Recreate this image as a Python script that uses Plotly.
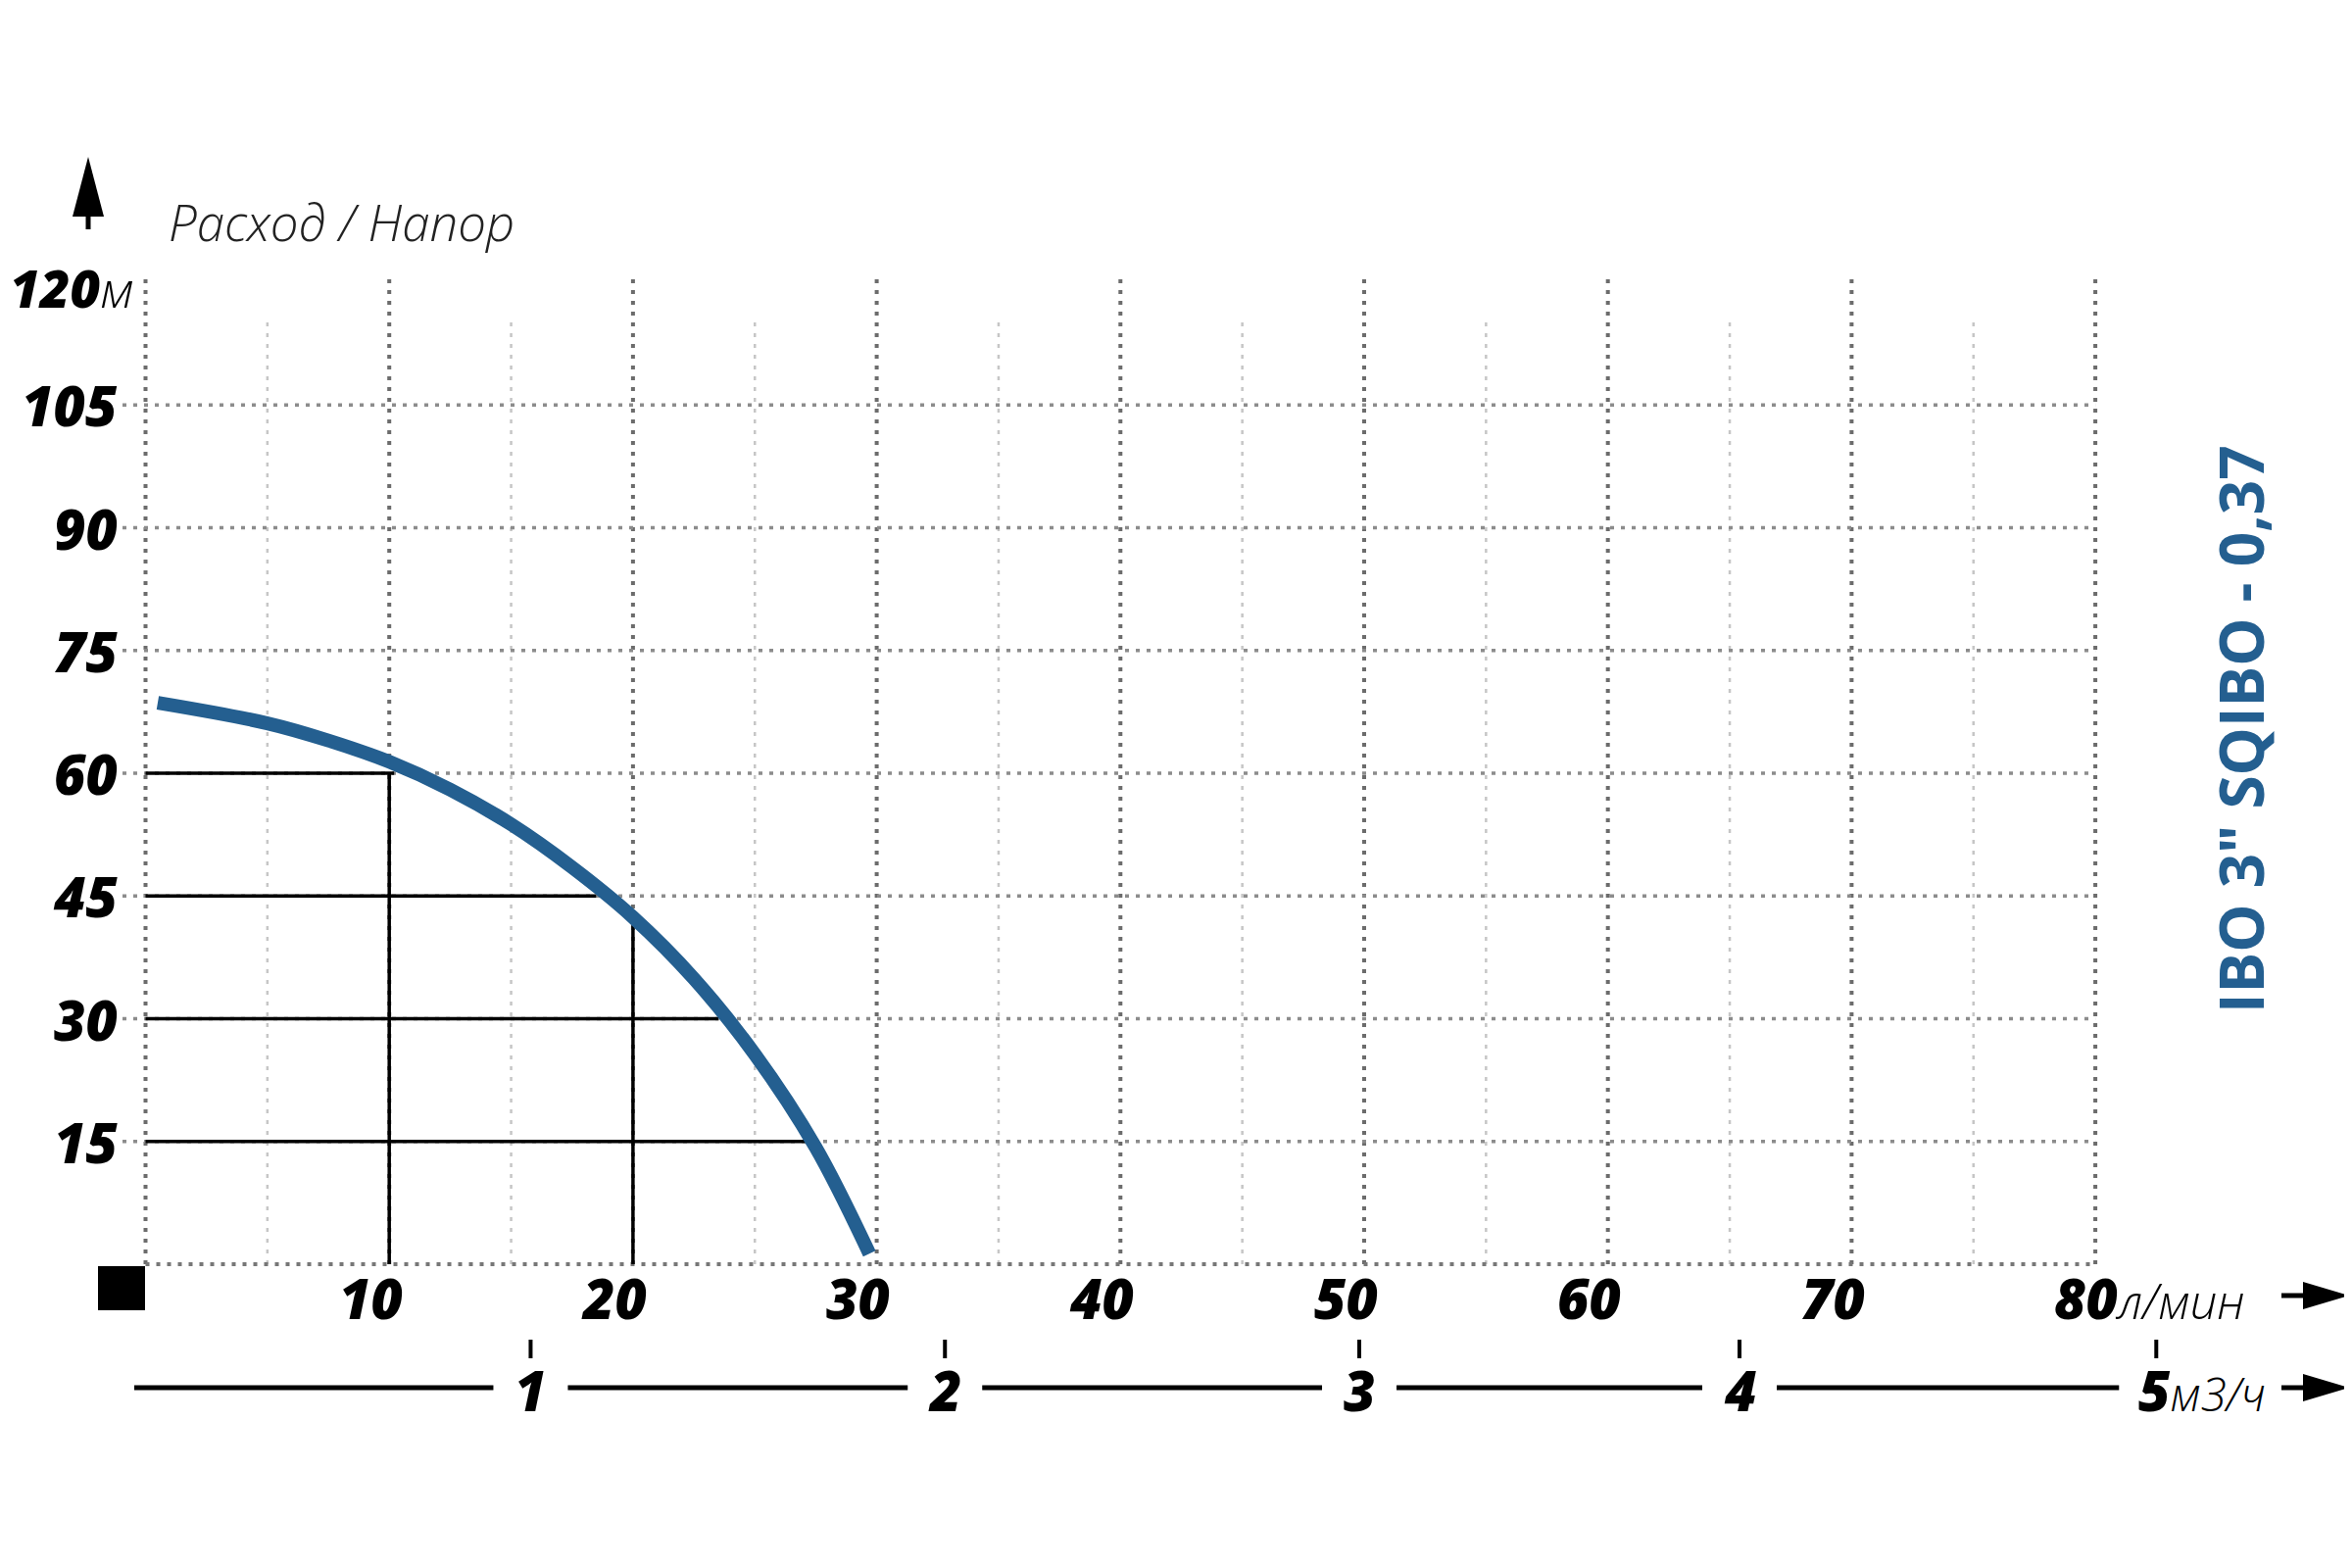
import plotly.graph_objects as go

# ---------------- data ----------------
flow_lpm = [0.5, 5, 7.5, 10, 12.5, 15, 17.5, 20, 22.5, 25, 27.5, 29.7]
head_m = [68.6, 66.1, 64.0, 61.4, 58.0, 53.75, 48.5, 42.4, 34.9, 25.65, 14.25, 1.3]

x_ticks = [10, 20, 30, 40, 50, 60, 70, 80]
x_minor = [5, 15, 25, 35, 45, 55, 65, 75]
y_ticks = [15, 30, 45, 60, 75, 90, 105, 120]
m3h_ticks = [1, 2, 3, 4, 5]
m3h_pos_lpm = [15.8, 32.8, 49.8, 65.4, 82.5]

ref_h_y = [60, 45, 30, 15]
ref_h_xend = [10.2, 18.5, 23.5, 27.1]
ref_v_x = [10, 20]
ref_v_yend = [60, 41.5]

model_name = 'IBO 3" SQIBO - 0,37'
title_text = "Расход / Напор"
unit_head = "м"
unit_flow = "л/мин"
unit_flow2 = "м3/ч"

# ---------------- layout geometry ----------------
W, H = 2400, 1600
PAGE_OFF = 8            # default body margin of the html page
X0, XS = 148.5, 24.87   # page px of flow=0, px per l/min
Y0, YS = 1290.0, 8.35   # page px of head=0, px per m


def px_x(p):
    return (p - X0) / XS


def px_y(p):
    return (Y0 - p) / YS


BLUE = "#245f90"
FONT = "Open Sans"

fig = go.Figure()

shapes = []
# major vertical grid
for xv in [0] + x_ticks:
    shapes.append(dict(type="line", xref="x", yref="y", x0=xv, x1=xv, y0=0, y1=px_y(284),
                       line=dict(color="#6c6c6c", width=4, dash="4px,7px"), layer="below"))
# minor vertical grid
for xv in x_minor:
    shapes.append(dict(type="line", xref="x", yref="y", x0=xv, x1=xv, y0=0, y1=px_y(327),
                       line=dict(color="#c6c6c6", width=2.5, dash="4px,7px"), layer="below"))
# horizontal grid
for yv in y_ticks[:-1]:
    shapes.append(dict(type="line", xref="x", yref="y", x0=px_x(125), x1=80, y0=yv, y1=yv,
                       line=dict(color="#8c8c8c", width=3.5, dash="4px,7px"), layer="below"))
# baseline
shapes.append(dict(type="line", xref="x", yref="y", x0=0, x1=80, y0=0, y1=0,
                   line=dict(color="#777777", width=4, dash="4px,7px"), layer="below"))

# black square at origin
shapes.append(dict(type="rect", xref="x", yref="y", x0=px_x(100), x1=px_x(148),
                   y0=px_y(1337), y1=px_y(1292), fillcolor="black", line=dict(width=0)))

# up arrow (top-left)
shapes.append(dict(type="path", xref="x", yref="y",
                   path=f"M {px_x(74)},{px_y(221)} L {px_x(90)},{px_y(160)} L {px_x(106)},{px_y(221)} Z",
                   fillcolor="black", line=dict(width=0)))
shapes.append(dict(type="line", xref="x", yref="y", x0=px_x(90), x1=px_x(90),
                   y0=px_y(218), y1=px_y(234), line=dict(color="black", width=5)))

# right arrows
for ypx in [1322, 1416]:
    shapes.append(dict(type="path", xref="x", yref="y",
                       path=f"M {px_x(2350)},{px_y(ypx - 14)} L {px_x(2397)},{px_y(ypx)} L {px_x(2350)},{px_y(ypx + 14)} Z",
                       fillcolor="black", line=dict(width=0)))
    shapes.append(dict(type="line", xref="x", yref="y", x0=px_x(2328), x1=px_x(2352),
                       y0=px_y(ypx), y1=px_y(ypx), line=dict(color="black", width=5)))

# m3/h scale line segments and ticks
seg_y = px_y(1416)
gap = 38 / XS
start = px_x(137)
for pos in m3h_pos_lpm:
    shapes.append(dict(type="line", xref="x", yref="y", x0=start, x1=pos - gap, y0=seg_y, y1=seg_y,
                       line=dict(color="black", width=5)))
    start = pos + gap
    shapes.append(dict(type="line", xref="x", yref="y", x0=pos, x1=pos, y0=px_y(1367), y1=px_y(1386),
                       line=dict(color="black", width=4)))

# reference black lines (traces)
for yv, xe in zip(ref_h_y, ref_h_xend):
    fig.add_trace(go.Scatter(x=[0, xe], y=[yv, yv], mode="lines",
                             line=dict(color="black", width=3.5), hoverinfo="skip"))
for xv, ye in zip(ref_v_x, ref_v_yend):
    fig.add_trace(go.Scatter(x=[xv, xv], y=[0, ye], mode="lines",
                             line=dict(color="black", width=3.5), hoverinfo="skip"))

# pump curve
fig.add_trace(go.Scatter(x=flow_lpm, y=head_m, mode="lines",
                         line=dict(color=BLUE, width=14, shape="spline", smoothing=1.0),
                         name=model_name))

num_font = dict(family=FONT, size=56, color="black", weight=800, style="italic")
unit_span = "<span style='font-weight:300;font-size:{}px'>{}</span>"

ann = []
# y labels
for yv in y_ticks:
    if yv == 120:
        ann.append(dict(x=px_x(138), y=yv - 0.6, xref="x", yref="y", xanchor="right", yanchor="middle",
                        text=f"{yv}" + unit_span.format(52, unit_head), showarrow=False,
                        font=dict(num_font, size=53), borderpad=0))
    else:
        ann.append(dict(x=px_x(122), y=yv, xref="x", yref="y", xanchor="right", yanchor="middle",
                        text=f"{yv}", showarrow=False, font=num_font))
# x labels
for xv in x_ticks:
    if xv == 80:
        ann.append(dict(x=xv, y=px_y(1324), xref="x", yref="y", xanchor="left", yanchor="middle",
                        xshift=-44, text=f"{xv}" + unit_span.format(49, unit_flow), showarrow=False,
                        font=num_font))
    else:
        ann.append(dict(x=xv, y=px_y(1324), xref="x", yref="y", xanchor="center", yanchor="middle",
                        xshift=-19, text=f"{xv}", showarrow=False, font=num_font))
# m3/h labels
for t, pos in zip(m3h_ticks, m3h_pos_lpm):
    if t == m3h_ticks[-1]:
        ann.append(dict(x=pos, y=px_y(1418), xref="x", yref="y", xanchor="left", yanchor="middle",
                        xshift=-20, text=f"{t}" + unit_span.format(47, unit_flow2), showarrow=False,
                        font=num_font))
    else:
        ann.append(dict(x=pos, y=px_y(1418), xref="x", yref="y", xanchor="center", yanchor="middle",
                        text=f"{t}", showarrow=False, font=num_font))
# chart title
ann.append(dict(x=px_x(170), y=px_y(226), xref="x", yref="y", xanchor="left", yanchor="middle",
                text=title_text, showarrow=False,
                font=dict(family=FONT, size=51, color="#222222", weight=300, style="italic")))
# model name (vertical)
ann.append(dict(x=px_x(2286), y=px_y(744), xref="x", yref="y", xanchor="center", yanchor="middle",
                text=model_name, textangle=-90, showarrow=False,
                font=dict(family=FONT, size=62, color=BLUE, weight=700)))

fig.update_layout(
    width=W, height=H,
    margin=dict(l=0, r=0, t=0, b=0),
    paper_bgcolor="white", plot_bgcolor="white",
    showlegend=False,
    # ranges chosen so that page pixels (figure offset by the body margin) match the reference
    xaxis=dict(range=[px_x(PAGE_OFF), px_x(W + PAGE_OFF)], visible=False, fixedrange=True),
    yaxis=dict(range=[px_y(H + PAGE_OFF), px_y(PAGE_OFF)], visible=False, fixedrange=True),
    shapes=shapes,
    annotations=ann,
)

fig.write_html("out.html")
